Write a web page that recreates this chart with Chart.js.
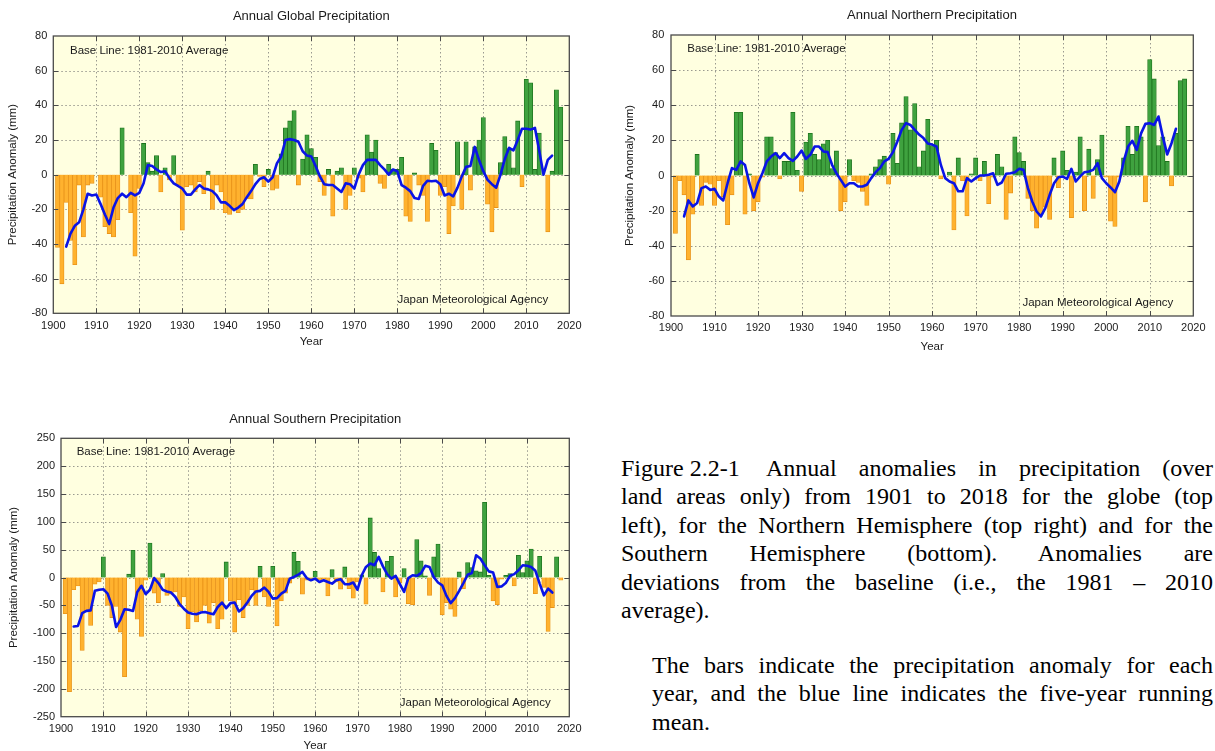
<!DOCTYPE html>
<html><head><meta charset="utf-8">
<script src="https://cdn.jsdelivr.net/npm/chart.js@4.4.1/dist/chart.umd.min.js"></script>
<style>
html,body{margin:0;padding:0;background:#fff;overflow:hidden;width:1215px;height:751px}
canvas{position:absolute}
.cap{position:absolute;font-family:"Liberation Serif","Times New Roman",serif;font-size:24px;line-height:28.5px;white-space:nowrap;color:#000}
.j{text-align:justify;text-align-last:justify;white-space:normal}
</style></head><body>
<canvas id="cG" width="600" height="360" style="left:0;top:0"></canvas>
<canvas id="cN" width="605" height="360" style="left:610px;top:0"></canvas>
<canvas id="cS" width="600" height="356" style="left:0;top:400px"></canvas>

<div class="cap" style="left:621px;top:453.7px">Figure 2.2-1</div>
<div class="cap j" style="left:766px;top:453.7px;width:447px">Annual anomalies in precipitation (over</div>
<div class="cap j" style="left:621px;top:482.2px;width:592px">land areas only) from 1901 to 2018 for the globe (top</div>
<div class="cap j" style="left:621px;top:510.7px;width:592px">left), for the Northern Hemisphere (top right) and for the</div>
<div class="cap j" style="left:621px;top:539.2px;width:592px">Southern Hemisphere (bottom). Anomalies are</div>
<div class="cap j" style="left:621px;top:567.7px;width:592px">deviations from the baseline (i.e., the 1981 – 2010</div>
<div class="cap" style="left:621px;top:596.2px">average).</div>
<div class="cap j" style="left:652px;top:650.7px;width:561px">The bars indicate the precipitation anomaly for each</div>
<div class="cap j" style="left:652px;top:679.2px;width:561px">year, and the blue line indicates the five-year running</div>
<div class="cap" style="left:652px;top:707.7px">mean.</div>

<script>
// ---------- categories ----------
const FIRST_YEAR = 1901, LAST_YEAR = 2018;
const years = [];
for (let y = FIRST_YEAR; y <= LAST_YEAR; y++) years.push(y);
const meanYears = years.slice(2, years.length - 2); // 1903-2016 (five-year running mean)

// ---------- tick labels ----------
const xTickValues = [1900,1910,1920,1930,1940,1950,1960,1970,1980,1990,2000,2010,2020];
const yTicksHemi = [-80,-60,-40,-20,0,20,40,60,80];
const yTicksSouth = [-250,-200,-150,-100,-50,0,50,100,150,200,250];

// ---------- texts ----------
const titleGlobal = 'Annual Global Precipitation';
const titleNorth = 'Annual Northern Precipitation';
const titleSouth = 'Annual Southern Precipitation';
const baseText = 'Base Line: 1981-2010 Average';
const agencyText = 'Japan Meteorological Agency';
const xTitle = 'Year';
const yTitle = 'Precipitation Anomaly (mm)';

// ---------- Global: annual anomalies (mm), 1901-2018 ----------
const globalBars = [
 -42,-63,-16,-38,-52,-6,-36,-6,-5,0,
 -13,-30,-34,-36,-26,27,0,-22,-47,-8,
 18,7,2,11,-10,4,-3,11,-6,-32,
 -7,-6,-10,-4,-11,2,-20,-6,-10,-22,
 -23,-20,-22,-20,-14,-14,6,-1,-7,3,
 -9,-8,12,27,31,37,-6,9,23,15,
 10,-4,-12,3,-24,2,4,-20,-12,4,
 -2,-10,23,13,20,-5,-8,6,3,3,
 10,-24,-27,1,-6,-12,-27,18,14,-12,
 -7,-34,-18,19,-20,19,-9,16,20,33,
 -17,-33,-19,7,22,15,4,31,-7,55,
 53,3,24,0,-33,2,49,39
];
// Global: five-year running mean, 1903-2016
const globalMean = [
 -41.5,-34,-29.5,-27.5,-20,-11,-12,-11.5,
 -17,-23,-28.5,-19,-13.5,-11,-13,-10.5,-12,-10.5,
 -5,5.5,5,3,1.5,2,-2,-5,-6.5,-8,
 -11.5,-11.5,-8.5,-6,-8,-8.5,-9.5,-12,-16,-16,
 -18,-20.5,-19,-17,-13,-9.5,-5.5,-2.5,-1.5,-4,
 -1.5,6.5,10.5,20,20.5,20,19,13.5,11,10.5,
 5,-1,-5.5,-6,-6,-8,-10,-5,-5.5,-8,
 0,5.5,8.5,8.5,8.5,5.5,3,0,3,2,
 -6,-7.5,-9.5,-13.5,-14,-6.5,-3.5,-3.8,-3.5,-5.5,
 -12,-11,-12.5,-7.5,-1,4.5,5,16,8.5,2,
 -3,-5.5,-7.5,0,9,15.5,14,20,26.5,26.5,
 26,27,14,0,8.5,11
];

// ---------- Northern Hemisphere ----------
const northBars = [
 -33,-3,-11,-48,-22,12,-17,-4,-5,-17,
 -3,-12,-28,-11,36,36,-22,1,-20,-15,
 -1,22,22,13,-2,8,8,36,3,-9,
 19,24,12,9,18,20,4,14,-20,-15,
 9,-3,-4,-9,-17,1,5,9,11,-5,
 24,7,30,45,26,41,5,14,32,17,
 20,-2,0,2,-31,10,-3,-23,1,10,
 -3,8,-16,-1,12,5,-25,-10,22,13,
 8,-13,-20,-30,-22,-18,-25,10,-7,14,
 3,-24,2,22,-20,15,-13,9,23,-1,
 -26,-29,-1,10,28,12,28,22,-15,66,
 55,17,22,8,-6,24,54,55
];
const northMean = [
 -23.3,-14.2,-17.6,-15.7,-7.2,-6.3,-8.2,-7.6,
 -12,-14.2,-4.4,4.2,3.2,8,6,-4.4,-12.5,-4.4,
 1.3,8,10.8,12.7,9.9,12.7,9.9,8.3,10.8,14.2,
 9.5,11.8,16.5,16.5,13.7,13.3,6.1,1.3,-2.5,-6.3,
 -4.4,-4.4,-6.3,-6.3,-5.3,-1.5,1.9,4.2,8,9.5,
 13.3,19.4,26,29.8,28.8,26,23.3,21.3,18.2,17.6,
 16.5,6,-1.5,-3.4,-4.4,-9,-9,-1.5,-3.4,-1.5,
 0,0,0.4,1.3,-5.3,-4,1,1.3,1.9,3.8,
 3.2,-7.2,-14.8,-20.5,-23.3,-18.6,-11,-4.4,-1,-0.6,
 -1.9,3.8,-3.4,-0.5,1.9,2.3,3.2,7,-1.5,-4.4,
 -6.8,-9.5,-3.4,8,16.5,19.7,14.6,24,29.4,29.8,
 28.8,33.6,22,12,18.4,26.6
];

// ---------- Southern Hemisphere ----------
const southBars = [
 -65,-205,-22,-15,-131,-60,-86,-12,-8,37,
 -50,-72,-52,-98,-178,6,49,-75,-106,-5,
 62,-28,-45,7,-32,-30,-26,-52,-35,-92,
 -62,-80,-60,-50,-82,-45,-92,-75,28,-42,
 -98,-40,-72,-50,-22,-50,20,-35,-52,20,
 -87,-42,-28,-10,45,29,-30,-5,-3,11,
 -5,-3,-33,14,-8,-21,19,-20,-37,-8,
 5,-48,107,45,16,-26,29,38,-35,-10,
 16,-47,-49,68,30,3,-32,37,60,-67,
 -45,-57,-70,10,-20,27,18,12,10,135,
 4,-42,-49,-3,4,7,-15,40,9,30,
 51,-29,38,-18,-97,-54,37,-5
];
const southMean = [
 -88,-87,-64,-60,-59,-24,-22,-21,
 -29,-50,-89,-76,-57,-58,-60,-26,-15,-30,
 -22,-1,-10,-22,-25,-27,-35,-48,-56,-63,
 -65,-66,-63,-62,-64,-66,-53,-45,-55,-46,
 -45,-61,-55,-45,-33,-25,-24,-18,-26,-38,
 -37,-29,-24,-2,1,5,10,-1,-5,-2,
 -8,-5,-8,-11,-5,-3,-12,-12,-9,-22,
 4,19,25,22,37,20,6,-2,3,-12,
 -26,-1,4,3,8,21,19,1,-9,-14,
 -33,-46,-37,-24,-10,5,8,40,34,22,
 11,9,-17,-16,-10,3,6,13,22,21,
 19,12,-11,-32,-20,-27
];

// ---------- styles ----------
const FONT = '"Liberation Sans", Arial, Helvetica, sans-serif';
const TXT = '#1a1a1a';
const PLOT_BG = '#FFFFE0';
const GRID = '#9a9a90';
const FRAME = '#4a4a4a';
const GREEN = '#3fa23f', GREEN_EDGE = '#1d721d';
const ORANGE = '#FFB22E', ORANGE_EDGE = '#E8931A';
const BLUE = '#0a14e6';

Chart.defaults.font.family = FONT;
Chart.defaults.color = TXT;

const deco = {
  id: 'deco',
  beforeDatasetsDraw(chart) {
    const {ctx, chartArea: a, scales: {x, y}} = chart;
    ctx.save();
    ctx.fillStyle = PLOT_BG;
    ctx.fillRect(a.left, a.top, a.right - a.left, a.bottom - a.top);
    ctx.strokeStyle = GRID; ctx.lineWidth = 1; ctx.setLineDash([1.5, 2.5]);
    ctx.beginPath();
    x.ticks.forEach(t => {
      if (t.value > x.min && t.value < x.max) {
        const p = Math.round(x.getPixelForValue(t.value)) + 0.5;
        ctx.moveTo(p, a.top); ctx.lineTo(p, a.bottom);
      }
    });
    y.ticks.forEach(t => {
      if (t.value > y.min && t.value < y.max) {
        const p = Math.round(y.getPixelForValue(t.value)) + 0.5;
        ctx.moveTo(a.left, p); ctx.lineTo(a.right, p);
      }
    });
    ctx.stroke();
    ctx.restore();
  },
  afterDatasetsDraw(chart) {
    const {ctx, chartArea: a, scales: {x, y}} = chart;
    ctx.save();
    ctx.strokeStyle = FRAME; ctx.lineWidth = 1;
    ctx.beginPath();
    const tl = 5;
    x.ticks.forEach(t => {
      if (t.value > x.min && t.value < x.max) {
        const p = Math.round(x.getPixelForValue(t.value)) + 0.5;
        ctx.moveTo(p, a.bottom); ctx.lineTo(p, a.bottom - tl);
        ctx.moveTo(p, a.top); ctx.lineTo(p, a.top + tl);
      }
    });
    y.ticks.forEach(t => {
      if (t.value > y.min && t.value < y.max) {
        const p = Math.round(y.getPixelForValue(t.value)) + 0.5;
        ctx.moveTo(a.left, p); ctx.lineTo(a.left + tl, p);
        ctx.moveTo(a.right, p); ctx.lineTo(a.right - tl, p);
      }
    });
    ctx.stroke();
    ctx.lineWidth = 1.3;
    ctx.strokeRect(a.left, a.top, a.right - a.left, a.bottom - a.top);
    ctx.restore();
  },
  afterDraw(chart, args, o) {
    const ctx = chart.ctx;
    ctx.save();
    ctx.fillStyle = TXT;
    ctx.textBaseline = 'middle';
    ctx.font = '13px ' + FONT;
    ctx.textAlign = 'center';
    ctx.fillText(o.title, o.titleX, o.titleY);
    ctx.font = '11.5px ' + FONT;
    ctx.textAlign = 'left';
    ctx.fillText(baseText, o.baseX, o.baseY);
    ctx.textAlign = 'right';
    ctx.fillText(agencyText, o.jmaX, o.jmaY);
    ctx.restore();
  }
};

function makeChart(id, c) {
  return new Chart(document.getElementById(id), {
    type: 'bar',
    data: {
      datasets: [
        {
          type: 'line',
          data: c.mean.map((v, i) => ({x: meanYears[i], y: v})),
          borderColor: BLUE, borderWidth: 2.6, pointRadius: 0, tension: 0,
          borderJoinStyle: 'round', borderCapStyle: 'round', fill: false, order: 0
        },
        {
          type: 'bar',
          data: c.bars.map((v, i) => ({x: years[i], y: v})),
          backgroundColor: ctx => (ctx.raw && ctx.raw.y < 0) ? ORANGE : GREEN,
          borderColor: ctx => (ctx.raw && ctx.raw.y < 0) ? ORANGE_EDGE : GREEN_EDGE,
          borderWidth: 0.8, barPercentage: 1, categoryPercentage: 1, order: 1
        }
      ]
    },
    options: {
      responsive: false, animation: false, events: [],
      layout: {padding: c.pad},
      plugins: {legend: {display: false}, tooltip: {enabled: false}, deco: c.deco},
      scales: {
        x: {
          type: 'linear', min: 1900, max: 2020, offset: false,
          grid: {display: false, drawTicks: false, offset: false}, border: {display: false},
          afterBuildTicks: s => { s.ticks = xTickValues.map(v => ({value: v})); },
          ticks: {padding: c.xTickPad, maxRotation: 0, autoSkip: false, color: TXT,
                  font: {size: 11}, callback: v => String(v)},
          title: {display: true, text: xTitle, color: TXT, font: {size: 11.5},
                  padding: {top: 0, bottom: c.xTitlePad}},
          afterFit: s => { s.height = c.xH; }
        },
        y: {
          type: 'linear', min: c.yTicks[0], max: c.yTicks[c.yTicks.length - 1],
          grid: {display: false, drawTicks: false}, border: {display: false},
          afterBuildTicks: s => { s.ticks = c.yTicks.map(v => ({value: v})); },
          ticks: {padding: c.yTickPad, autoSkip: false, color: TXT, font: {size: 11},
                  callback: v => String(v)},
          title: {display: true, text: yTitle, color: TXT, font: {size: 11.5},
                  padding: {top: c.yTitlePad, bottom: 0}},
          afterFit: s => { s.width = c.yW; }
        }
      }
    },
    plugins: [deco]
  });
}

makeChart('cG', {
  bars: globalBars, mean: globalMean, yTicks: yTicksHemi,
  pad: {left: 0, top: 36, right: 30.7, bottom: 0},
  yW: 53.3, xH: 46.7, yTickPad: 6, yTitlePad: 6.3, xTickPad: 5.8, xTitlePad: 11,
  deco: {title: titleGlobal, titleX: 311.3, titleY: 16.7, baseX: 70, baseY: 50.7, jmaX: 548.3, jmaY: 300}
});
makeChart('cN', {
  bars: northBars, mean: northMean, yTicks: yTicksHemi,
  pad: {left: 0, top: 35, right: 21.7, bottom: 0},
  yW: 61, xH: 44, yTickPad: 6.7, yTitlePad: 13, xTickPad: 5.7, xTitlePad: 6.3,
  deco: {title: titleNorth, titleX: 322, titleY: 15, baseX: 77.3, baseY: 49.3, jmaX: 563.3, jmaY: 302.7}
});
makeChart('cS', {
  bars: southBars, mean: southMean, yTicks: yTicksSouth,
  pad: {left: 0, top: 38.3, right: 30.7, bottom: 0},
  yW: 61, xH: 39.3, yTickPad: 6, yTitlePad: 7, xTickPad: 5.7, xTitlePad: 3.3,
  deco: {title: titleSouth, titleX: 315.2, titleY: 19, baseX: 76.7, baseY: 51.7, jmaX: 550.7, jmaY: 302.7}
});
</script>
</body></html>
